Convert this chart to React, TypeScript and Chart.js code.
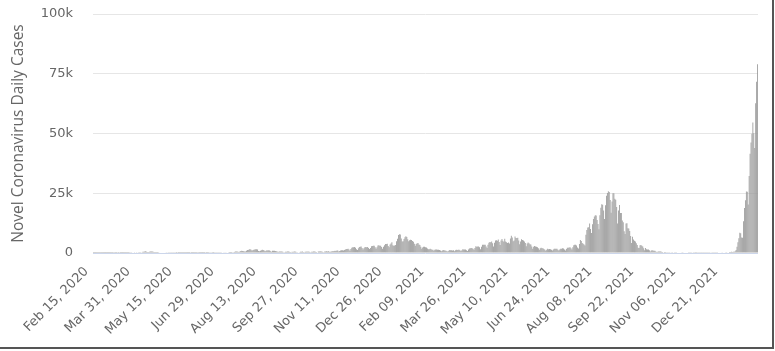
import React, { useEffect, useRef } from "react";
import { Chart, registerables } from "chart.js";

Chart.register(...registerables);

const START_DATE = "2020-02-15";
const MONTHS = ["Jan", "Feb", "Mar", "Apr", "May", "Jun", "Jul", "Aug", "Sep", "Oct", "Nov", "Dec"];

const feb2020 = [7, 4, 6, 9, 11, 9, 12, 14, 12, 16, 14, 10, 22, 20, 12];
const mar2020 = [15, 14, 33, 23, 33, 47, 40, 59, 28, 26, 52, 56, 44, 58, 20, 15, 44, 36, 38, 34, 40, 38, 37, 42, 93, 97, 111, 195, 174, 86, 225];
const apr2020 = [265, 218, 355, 363, 391, 255, 354, 515, 575, 640, 720, 505, 391, 456, 476, 586, 580, 581, 570, 390, 370, 438, 434, 431, 366, 206, 174, 233, 234, 171];
const may2020 = [164, 237, 300, 201, 112, 76, 107, 85, 101, 109, 62, 54, 70, 51, 98, 43, 30, 29, 27, 50, 39, 24, 29, 26, 21, 32, 30, 39, 55, 47, 45];
const jun2020 = [37, 39, 50, 51, 42, 57, 31, 32, 39, 45, 38, 51, 52, 74, 36, 41, 46, 61, 72, 56, 67, 51, 40, 58, 70, 100, 91, 109, 68, 74];
const jul2020 = [117, 197, 253, 269, 198, 117, 207, 198, 362, 419, 381, 403, 262, 339, 452, 622, 586, 652, 511, 426, 631, 797, 980, 849, 773, 590, 600, 983, 1242, 1303, 1580];
const aug2020 = [1533, 1326, 980, 1241, 1359, 1483, 1595, 1549, 1414, 833, 706, 967, 1156, 1354, 1233, 1010, 780, 950, 1176, 1033, 1111, 1026, 749, 493, 893, 927, 930, 864, 745, 592, 450];
const sep2020 = [625, 604, 590, 588, 504, 351, 324, 509, 507, 668, 641, 520, 434, 291, 516, 470, 607, 606, 568, 332, 265, 223, 295, 523, 550, 611, 424, 305, 549, 509];
const oct2020 = [595, 531, 590, 434, 297, 490, 556, 628, 615, 560, 404, 255, 581, 677, 699, 637, 622, 375, 317, 606, 669, 721, 663, 740, 502, 484, 668, 683, 732, 819, 906];
const nov2020 = [866, 1098, 1032, 630, 832, 1074, 1124, 1103, 1052, 1289, 1509, 1697, 1684, 1732, 1440, 960, 1713, 2198, 2386, 2424, 2551, 2186, 1523, 1236, 1968, 2499, 2589, 2684, 2063, 1436];
const dec2020 = [2030, 2441, 2513, 2431, 2506, 2062, 1662, 2052, 2811, 2971, 3004, 3054, 2420, 1728, 2415, 3131, 3214, 2988, 3042, 2501, 1806, 2654, 3267, 3747, 3790, 3862, 2926, 2410, 3577, 3960, 4520];
const jan2021 = [3237, 3080, 3166, 3321, 4907, 6003, 7570, 7844, 7788, 6070, 4842, 4914, 5870, 6598, 7055, 6697, 5756, 4920, 5312, 5542, 5461, 5007, 4741, 3917, 3057, 3761, 4080, 4163, 3536, 3333, 2584];
const feb2021 = [1784, 2318, 2631, 2577, 2371, 2279, 1888, 1528, 1569, 1744, 1581, 1350, 1351, 987, 1308, 1508, 1508, 1308, 1314, 1297, 1095, 770, 1077, 1233, 1111, 1010, 983, 728];
const mar2021 = [668, 970, 1267, 1173, 1127, 1008, 1112, 743, 1125, 1316, 1292, 1317, 1354, 1100, 786, 1135, 1555, 1501, 1425, 1416, 1121, 815, 1492, 1846, 1983, 2055, 1993, 1780, 1316, 2112, 2837];
const apr2021 = [2598, 2760, 2754, 2357, 1564, 2596, 3461, 3405, 3455, 3443, 2749, 2114, 3452, 4313, 4570, 4499, 4799, 4069, 2726, 4305, 5183, 5292, 5118, 5605, 4579, 3311, 5182, 5898, 5075, 4681];
const may2021 = [5998, 4804, 4458, 4167, 4371, 3941, 6054, 7244, 6477, 4938, 5200, 6879, 6245, 6266, 6418, 5232, 3676, 4832, 5736, 5396, 5243, 4804, 4203, 2783, 4010, 4411, 4129, 3661, 3529, 2724, 1749];
const jun2021 = [2637, 2967, 2755, 2574, 2399, 1953, 1364, 1948, 2219, 2015, 1941, 1703, 1388, 936, 1400, 1762, 1597, 1635, 1591, 1315, 1056, 1424, 1742, 1823, 1749, 1761, 1334, 1038, 1462, 1789];
const jul2021 = [1782, 1976, 1875, 1502, 1023, 1643, 2189, 2239, 2250, 2409, 1959, 1427, 2385, 3194, 3421, 3434, 3098, 2327, 1849, 3758, 5396, 5025, 4225, 3897, 3574, 3098, 7630, 9576, 10693, 10743, 12341];
const aug2021 = [10035, 8392, 12016, 14207, 15263, 15753, 15711, 13781, 12089, 9981, 15812, 18889, 20366, 20151, 17833, 14232, 19955, 23917, 25156, 25876, 25492, 22192, 16829, 21559, 24956, 24951, 22751, 22299, 19295, 12326, 17775];
const sep2021 = [20032, 16760, 16713, 13588, 12899, 9147, 7989, 12393, 12399, 10393, 10221, 9223, 7126, 4167, 6800, 5681, 5122, 4789, 4070, 3316, 2183, 2090, 3242, 3375, 3040, 2670, 1997, 1132, 2080, 1583];
const oct2021 = [1430, 1444, 1118, 620, 1084, 1144, 1045, 990, 926, 622, 379, 556, 639, 650, 591, 500, 428, 247, 376, 377, 343, 331, 316, 277, 155, 216, 277, 267, 239, 271, 151];
const nov2021 = [86, 227, 160, 178, 157, 163, 143, 75, 172, 221, 196, 187, 194, 123, 77, 135, 131, 157, 127, 124, 87, 50, 92, 134, 77, 117, 128, 96, 75, 110];
const dec2021 = [121, 116, 120, 117, 136, 64, 123, 173, 141, 140, 140, 127, 120, 114, 144, 158, 200, 162, 174, 135, 183, 213, 253, 266, 272, 176, 252, 386, 400, 502, 458];
const jan2022 = [534, 553, 782, 1265, 2638, 4475, 6214, 8480, 8249, 6438, 6377, 13244, 18860, 22045, 25742, 25631, 20268, 32197, 41485, 46199, 49854, 54576, 50114, 43976, 62612, 71633, 78930];

const dailyCases = [
  ...feb2020, ...mar2020, ...apr2020, ...may2020, ...jun2020, ...jul2020,
  ...aug2020, ...sep2020, ...oct2020, ...nov2020, ...dec2020,
  ...jan2021, ...feb2021, ...mar2021, ...apr2021, ...may2021, ...jun2021,
  ...jul2021, ...aug2021, ...sep2021, ...oct2021, ...nov2021, ...dec2021,
  ...jan2022,
];

const tickLabels = [
  "Feb 15, 2020", "Mar 31, 2020", "May 15, 2020", "Jun 29, 2020", "Aug 13, 2020",
  "Sep 27, 2020", "Nov 11, 2020", "Dec 26, 2020", "Feb 09, 2021", "Mar 26, 2021",
  "May 10, 2021", "Jun 24, 2021", "Aug 08, 2021", "Sep 22, 2021", "Nov 06, 2021",
  "Dec 21, 2021",
];
const TICK_EVERY = 45;
const yTicks = [0, 25000, 50000, 75000, 100000];

function makeCategories(n: number): string[] {
  const out: string[] = [];
  const d0 = new Date(START_DATE + "T00:00:00Z");
  for (let i = 0; i < n; i++) {
    const d = new Date(d0.getTime() + i * 86400000);
    const day = String(d.getUTCDate()).padStart(2, "0");
    out.push(`${MONTHS[d.getUTCMonth()]} ${day}, ${d.getUTCFullYear()}`);
  }
  return out;
}

export default function App() {
  const ref = useRef<HTMLCanvasElement | null>(null);

  useEffect(() => {
    document.body.style.margin = "0";
    const canvas = ref.current;
    if (!canvas) return;
    const categories = makeCategories(dailyCases.length);
    const chart = new Chart(canvas, {
      type: "bar",
      data: {
        labels: categories,
        datasets: [
          {
            label: "Daily Cases",
            data: dailyCases,
            backgroundColor: "#999999",
            borderWidth: 0,
            barPercentage: 0.9,
            categoryPercentage: 1,
          },
        ],
      },
      options: {
        responsive: false,
        animation: false,
        maintainAspectRatio: false,
        layout: { padding: { top: 14, right: 17, left: 0, bottom: 0 } },
        plugins: { legend: { display: false }, tooltip: { enabled: false } },
        scales: {
          x: {
            type: "category",
            offset: true,
            grid: { display: false, drawTicks: false },
            border: { display: false },
            ticks: {
              autoSkip: false,
              maxRotation: 45,
              minRotation: 45,
              padding: 11,
              labelOffset: -7,
              color: "#666666",
              font: { family: "DejaVu Sans", size: 13 },
              callback: (_v: any, i: number) =>
                i % TICK_EVERY === 0 ? tickLabels[i / TICK_EVERY] : null,
            },
            afterFit: (s: any) => {
              s.height = 98;
              s.paddingLeft = 0;
              s.paddingRight = 0;
            },
          },
          y: {
            min: yTicks[0],
            max: yTicks[yTicks.length - 1],
            afterBuildTicks: (s: any) => {
              s.ticks = yTicks.map((v) => ({ value: v }));
            },
            grid: {
              drawTicks: false,
              color: (c: any) => (c.tick && c.tick.value === 0 ? "#ccd6eb" : "#e6e6e6"),
              lineWidth: 1,
            },
            border: { display: false },
            ticks: {
              padding: 20,
              color: "#666666",
              font: { family: "DejaVu Sans", size: 13 },
              callback: (v: any) => (v === 0 ? "0" : `${v / 1000}k`),
            },
            title: {
              display: true,
              text: "Novel Coronavirus Daily Cases",
              color: "#666666",
              font: { family: "Open Sans", size: 15.5 },
              padding: { top: 9, bottom: 0 },
            },
            afterFit: (s: any) => {
              s.width = 93;
              s.paddingTop = 0;
              s.paddingBottom = 0;
            },
          },
        },
      },
    });
    return () => chart.destroy();
  }, []);

  return (
    <div style={{ position: "relative", width: 775, height: 351, background: "#fff" }}>
      <canvas ref={ref} width={775} height={351} style={{ display: "block" }} />
      <div
        style={{
          position: "absolute",
          left: 0,
          top: 0,
          width: 772,
          height: 347,
          borderRight: "2px solid #555",
          borderBottom: "2px solid #555",
          pointerEvents: "none",
        }}
      />
    </div>
  );
}
